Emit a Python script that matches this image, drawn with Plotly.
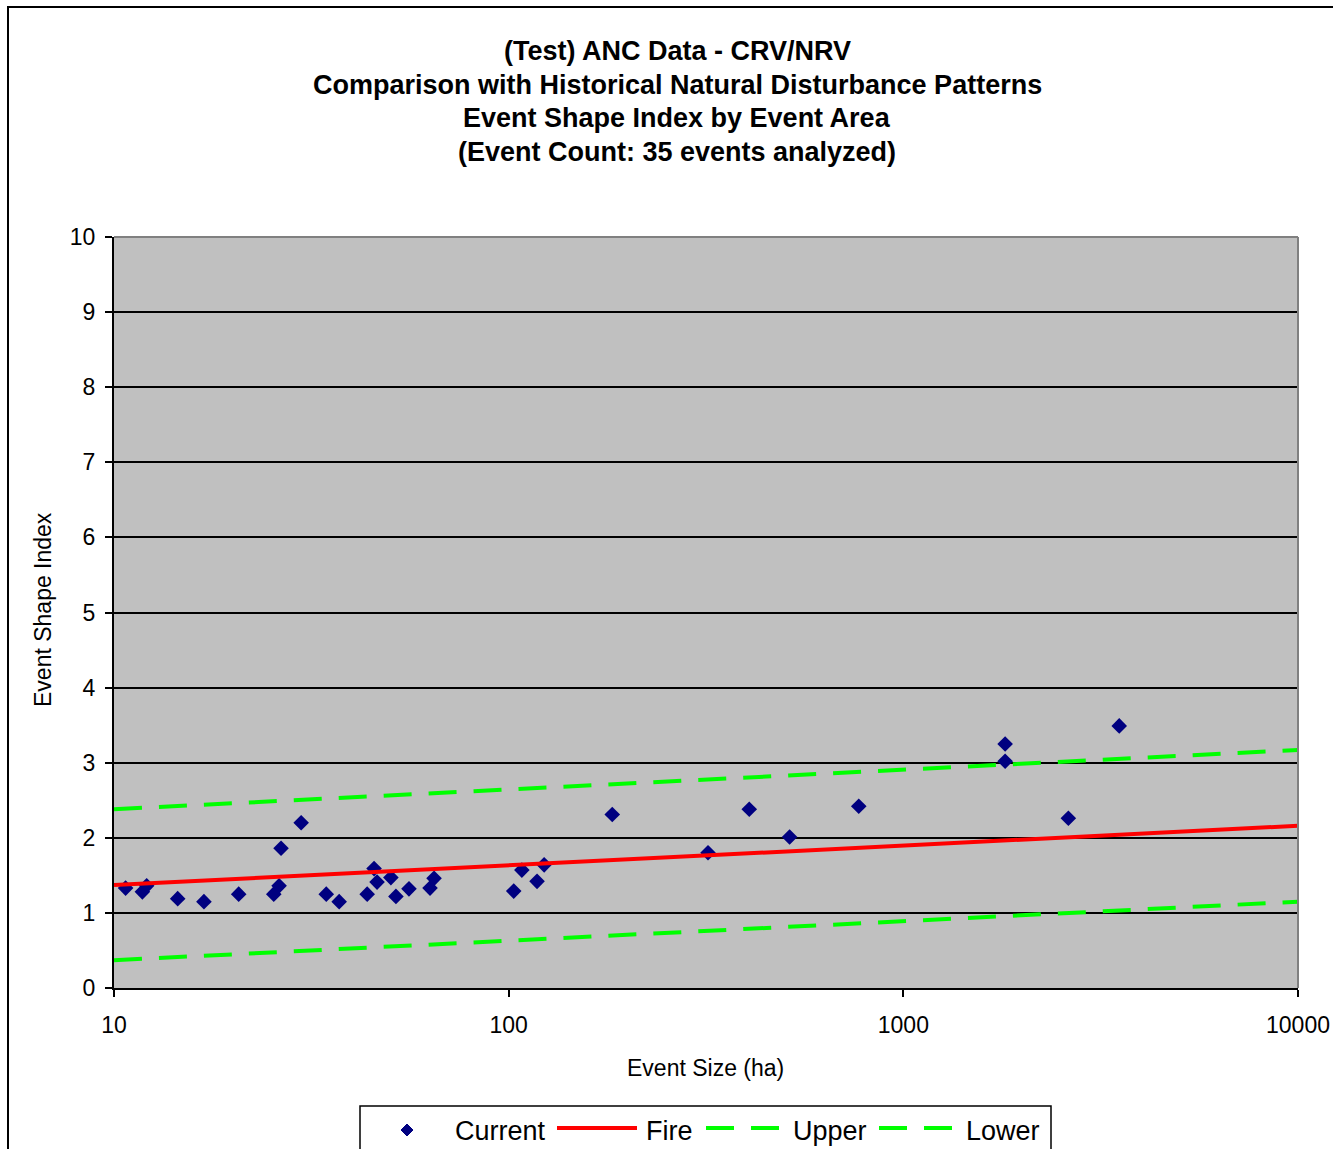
import plotly.graph_objects as go

# ---- data ----
event_size = [10.7, 11.8, 12.1, 14.5, 16.9, 20.7, 25.4, 26.2, 26.5, 29.8,
              34.5, 37.2, 43.8, 45.6, 46.4, 50.3, 51.8, 55.9, 63.2, 64.7,
              103, 108, 118, 123, 183, 320, 407, 515, 771,
              1811, 1811, 2619, 3524]
shape_index = [1.33, 1.28, 1.36, 1.19, 1.15, 1.25, 1.25, 1.36, 1.86, 2.20,
               1.25, 1.15, 1.25, 1.59, 1.41, 1.47, 1.22, 1.32, 1.33, 1.46,
               1.29, 1.57, 1.42, 1.64, 2.31, 1.80, 2.38, 2.01, 2.42,
               3.25, 3.02, 2.26, 3.49]

ref_size = [10, 100, 1000, 10000]
fire = [1.37, 1.63, 1.90, 2.16]
upper = [2.38, 2.64, 2.90, 3.17]
lower = [0.37, 0.63, 0.90, 1.15]

x_ticks = [10, 100, 1000, 10000]
x_tick_labels = ["10", "100", "1000", "10000"]
y_ticks = list(range(0, 11))

title_lines = ["(Test) ANC Data - CRV/NRV",
               "Comparison with Historical Natural Disturbance Patterns",
               "Event Shape Index by Event Area",
               "(Event Count: 35 events analyzed)"]
series_names = ["Current", "Fire", "Upper", "Lower"]

FONT = "Arial, Liberation Sans, sans-serif"
NAVY, RED, GREEN = "#000080", "#FF0000", "#00FF00"
DASH = "28px,17px"

fig = go.Figure()
fig.add_trace(go.Scatter(x=event_size, y=shape_index, mode="markers", name=series_names[0],
                         marker=dict(symbol="diamond", size=12, color=NAVY)))
fig.add_trace(go.Scatter(x=ref_size, y=fire, mode="lines", name=series_names[1],
                         line=dict(color=RED, width=4)))
fig.add_trace(go.Scatter(x=ref_size, y=upper, mode="lines", name=series_names[2],
                         line=dict(color=GREEN, width=4, dash=DASH)))
fig.add_trace(go.Scatter(x=ref_size, y=lower, mode="lines", name=series_names[3],
                         line=dict(color=GREEN, width=4, dash=DASH)))

W, H = 1333, 1149
L, R, T, B = 114, 1298, 237, 988
pw, ph = R - L, B - T

def px(xp):
    return (xp - L) / pw

def py(yp):
    return (B - yp) / ph

shapes = [
    # outer chart-area border
    dict(type="rect", xref="paper", yref="paper", x0=px(8), x1=px(1345), y0=py(1170), y1=py(7),
         line=dict(color="black", width=2), fillcolor="rgba(0,0,0,0)", layer="below"),
    # plot area border (top/right gray)
    dict(type="line", xref="paper", yref="paper", x0=0, x1=1, y0=1, y1=1,
         line=dict(color="#808080", width=2), layer="above"),
    dict(type="line", xref="paper", yref="paper", x0=1, x1=1, y0=0, y1=1,
         line=dict(color="#808080", width=2), layer="above"),
    # legend box
    dict(type="rect", xref="paper", yref="paper", x0=px(360), x1=px(1051), y0=py(1170), y1=py(1106),
         line=dict(color="black", width=1.5), fillcolor="white", layer="above"),
    # legend samples
    dict(type="path", xref="paper", yref="paper",
         path=f"M {px(407)},{py(1124)} L {px(413)},{py(1130)} L {px(407)},{py(1136)} L {px(401)},{py(1130)} Z",
         line=dict(color=NAVY, width=1), fillcolor=NAVY, layer="above"),
    dict(type="line", xref="paper", yref="paper", x0=px(557), x1=px(637), y0=py(1128), y1=py(1128),
         line=dict(color=RED, width=4), layer="above"),
    dict(type="line", xref="paper", yref="paper", x0=px(706), x1=px(781), y0=py(1128), y1=py(1128),
         line=dict(color=GREEN, width=4, dash=DASH), layer="above"),
    dict(type="line", xref="paper", yref="paper", x0=px(879), x1=px(954), y0=py(1128), y1=py(1128),
         line=dict(color=GREEN, width=4, dash=DASH), layer="above"),
]

annotations = []
for line, yc in zip(title_lines, [51, 85, 118, 152]):
    annotations.append(dict(text="<b>" + line + "</b>", xref="paper", yref="paper",
                            x=px(677), y=py(yc), xanchor="center", yanchor="middle",
                            showarrow=False, font=dict(size=27, family=FONT)))
annotations += [
    dict(text="Event Shape Index", xref="paper", yref="paper", x=px(43), y=py(610),
         xanchor="center", yanchor="middle", textangle=-90, showarrow=False,
         font=dict(size=23, family=FONT)),
    dict(text="Event Size (ha)", xref="paper", yref="paper", x=px(705), y=py(1068),
         xanchor="center", yanchor="middle", showarrow=False,
         font=dict(size=23, family=FONT)),
]
for name, xl in zip(series_names, [453, 644, 791, 964]):
    annotations.append(dict(text=name, xref="paper", yref="paper", x=px(xl), y=py(1131),
                            xanchor="left", yanchor="middle", showarrow=False,
                            font=dict(size=27, family=FONT)))

fig.update_layout(
    width=W, height=H,
    margin=dict(l=L, r=W - R, t=T, b=H - B, autoexpand=False),
    paper_bgcolor="white", plot_bgcolor="#C0C0C0",
    font=dict(family=FONT, color="black", size=23),
    showlegend=False,
    xaxis=dict(type="log", range=[1, 4], tickvals=x_ticks, ticktext=x_tick_labels,
               showgrid=False, zeroline=False, showline=True, linecolor="black", linewidth=2,
               ticks="outside", ticklen=7, tickwidth=1.5, tickcolor="black",
               tickfont=dict(size=23), ticklabelstandoff=8),
    yaxis=dict(range=[0, 10], tickvals=y_ticks, showgrid=True, gridcolor="black", gridwidth=1.5,
               zeroline=False, showline=True, linecolor="black", linewidth=2,
               ticks="outside", ticklen=7, tickwidth=1.5, tickcolor="black",
               tickfont=dict(size=23), ticklabelstandoff=5),
    shapes=shapes,
    annotations=annotations,
)

fig.write_html("out.html")
